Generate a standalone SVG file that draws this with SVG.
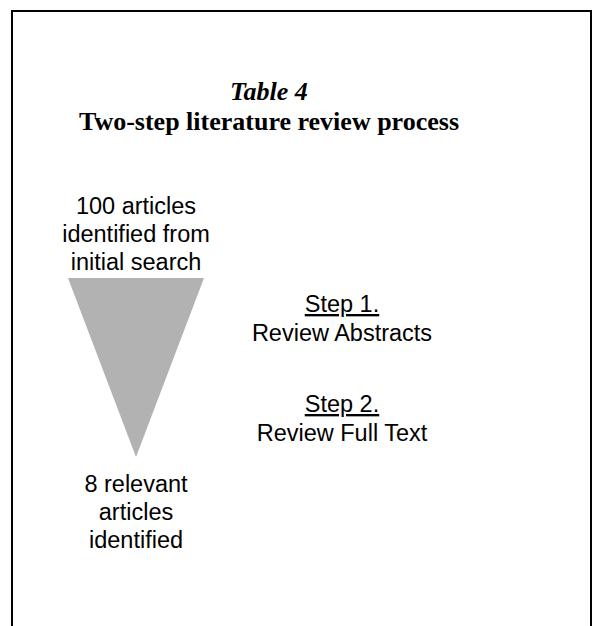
<svg xmlns="http://www.w3.org/2000/svg" width="602" height="626" viewBox="0 0 602 626">
<style>
.title{font-family:"Liberation Serif","Times New Roman",serif;font-weight:bold;font-size:26px;fill:#000;text-anchor:middle}
.body{font-family:"Liberation Sans",Arial,sans-serif;font-size:23.5px;fill:#000;text-anchor:middle}
.u{text-decoration:underline}
</style>
<rect width="602" height="626" fill="#fff"/>
<path d="M12,640 V11 H591 V640" fill="none" stroke="#000" stroke-width="2"/>
<g id="title">
<text class="title" x="269" y="100" font-style="italic">Table 4</text>
<text class="title" x="269" y="130">Two-step literature review process</text>
</g>
<g id="funnel">
<polygon points="68,278 204,278 136,457" fill="#b2b2b2"/>
</g>
<g id="top-label">
<text class="body" x="136" y="214">100 articles</text>
<text class="body" x="136" y="242">identified from</text>
<text class="body" x="136" y="270">initial search</text>
</g>
<g id="bottom-label">
<text class="body" x="136" y="492">8 relevant</text>
<text class="body" x="136" y="520">articles</text>
<text class="body" x="136" y="548">identified</text>
</g>
<g id="step1">
<text class="body u" x="342" y="312">Step 1.</text>
<text class="body" x="342" y="341">Review Abstracts</text>
</g>
<g id="step2">
<text class="body u" x="342" y="412">Step 2.</text>
<text class="body" x="342" y="441">Review Full Text</text>
</g>
<g id="connectors"></g>
</svg>
